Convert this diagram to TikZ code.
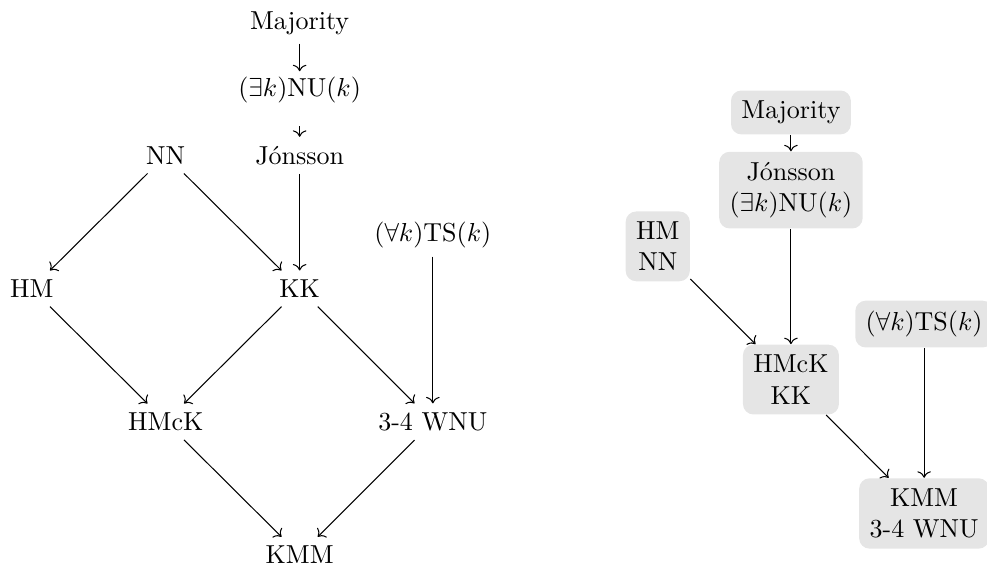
\documentclass[tikz,border=0pt]{standalone}
\usepackage{amsmath}
\usepackage{amssymb}
\usetikzlibrary{arrows.meta, positioning}

\begin{document}
\begin{tikzpicture}[
        prop/.style={inner sep=3.33pt},
        merged/.style={fill=gray!20, rounded corners=4pt, inner sep=4pt, align=center},
        arrow/.style={-{To}}
    ]
    \useasboundingbox (0,0) rectangle (13.34,7.68);

    % Left lattice
    \node[prop] (maj) at (4.05,7.37) {Majority};
    \node[prop] (nu) at (4.05,6.47) {$(\exists k)\mathrm{NU}(k)$};
    \node[prop] (jon) at (4.05,5.58) {J\'onsson};
    \node[prop] (nn) at (2.24,5.58) {NN};
    \node[prop] (ts) at (5.85,4.51) {$(\forall k)\mathrm{TS}(k)$};
    \node[prop] (hm) at (0.43,3.78) {HM};
    \node[prop] (kk) at (4.05,3.78) {KK};
    \node[prop] (hmck) at (2.24,1.98) {HMcK};
    \node[prop] (wnu) at (5.85,1.98) {3-4 WNU};
    \node[prop] (kmm) at (4.05,0.18) {KMM};

    % Left arrows
    \draw[arrow, shorten >=-1.5pt] (maj) -- (nu);
    \draw[arrow, shorten <=5.5pt] (nu) -- (jon);
    \draw[arrow] (nn) -- (hm);
    \draw[arrow] (nn) -- (kk);
    \draw[arrow] (jon) -- (kk);
    \draw[arrow] (ts) -- (wnu);
    \draw[arrow] (hm) -- (hmck);
    \draw[arrow] (kk) -- (hmck);
    \draw[arrow] (kk) -- (wnu);
    \draw[arrow] (hmck) -- (kmm);
    \draw[arrow] (wnu) -- (kmm);

    % Right: merged classes
    \node[merged] (rmaj) at (10.69,6.16) {Majority};
    \node[merged] (rjon) at (10.69,5.11) {J\'onsson\\$(\exists k)\mathrm{NU}(k)$};
    \node[merged] (rhm) at (8.89,4.35) {HM\\NN};
    \node[merged] (rts) at (12.49,3.30) {$(\forall k)\mathrm{TS}(k)$};
    \node[merged] (rhmck) at (10.69,2.55) {HMcK\\KK};
    \node[merged] (rkmm) at (12.49,0.74) {KMM\\3-4 WNU};

    % Right arrows
    \draw[arrow] (rmaj) -- (rjon);
    \draw[arrow] (rjon) -- (rhmck);
    \draw[arrow] (rhm) -- (rhmck);
    \draw[arrow] (rts) -- (rkmm);
    \draw[arrow] (rhmck) -- (rkmm);

\end{tikzpicture}
\end{document}
